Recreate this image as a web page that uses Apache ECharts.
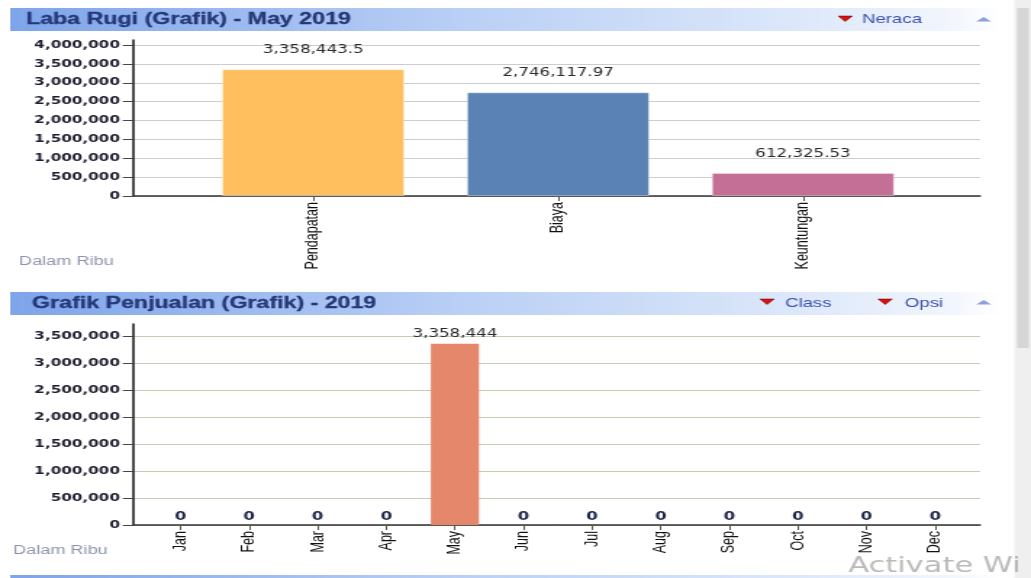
<!DOCTYPE html>
<html>
<head>
<meta charset="utf-8">
<title>Laba Rugi &amp; Grafik Penjualan</title>
<script src="https://cdn.jsdelivr.net/npm/echarts@6/dist/echarts.min.js"></script>
<style>
  html, body { margin: 0; padding: 0; background: #fff; overflow: hidden; }
  /* the dashboard is laid out at 711px and widened to the window */
  #wrap { width: 1031px; height: 578px; overflow: hidden; }
  #chart { width: 711px; height: 578px; transform: scaleX(1.45007); transform-origin: 0 0; }
</style>
</head>
<body>
<div id="wrap"><div id="chart"></div></div>
<script>
// ---- Laba Rugi, May 2019 (in thousands) ----
const profitTitle = 'Laba Rugi (Grafik) - May 2019';
const profitCategories = ['Pendapatan', 'Biaya', 'Keuntungan'];
const profitValues = [3358443.5, 2746117.97, 612325.53];
const profitColors = ['#FFBF5F', '#5B82B5', '#C47096'];
const profitAxisMax = 4000000;

// ---- Grafik Penjualan 2019 (in thousands) ----
const salesTitle = 'Grafik Penjualan (Grafik) - 2019';
const salesMonths = ['Jan', 'Feb', 'Mar', 'Apr', 'May', 'Jun', 'Jul', 'Aug', 'Sep', 'Oct', 'Nov', 'Dec'];
const salesValues = [0, 0, 0, 0, 3358444, 0, 0, 0, 0, 0, 0, 0];
const salesColor = '#E5876A';
const salesAxisMax = 3500000;

const axisStep = 500000;
const unitNote = 'Dalam Ribu';

const fmt = v => Number(v).toLocaleString('en-US', { maximumFractionDigits: 2 });

const chart = echarts.init(document.getElementById('chart'), null, { renderer: 'canvas' });

const tickFont = { fontFamily: 'DejaVu Sans', fontWeight: 'bold', fontSize: 10.5, color: '#1e1e2e' };
const catFont = { fontFamily: 'Liberation Sans', fontSize: 12.5, color: '#111' };
const valFont = { fontFamily: 'DejaVu Sans', fontSize: 11.5, color: '#2a2a2a' };

function headerBar(y) {
  return {
    type: 'rect',
    shape: { x: 7, y: y, width: 683, height: 23 },
    style: {
      fill: new echarts.graphic.LinearGradient(0, 0, 1, 0, [
        { offset: 0, color: '#7ea4ea' },
        { offset: 0.45, color: '#b9cff5' },
        { offset: 0.8, color: '#dde8fa' },
        { offset: 0.95, color: '#f2f6fd' },
        { offset: 1, color: '#ffffff' }
      ])
    },
    silent: true
  };
}
function headerText(text, x, y) {
  return { type: 'text', x: x, y: y,
    style: { text: text, fill: '#263878', font: 'bold 16px "Liberation Sans"', textVerticalAlign: 'middle',
      stroke: '#263878', lineWidth: 0.3 } };
}
function menuText(text, x, y) {
  return { type: 'text', x: x, y: y,
    style: { text: text, fill: '#3a4fb0', font: '12.8px "Liberation Sans"', textVerticalAlign: 'middle' } };
}
function downArrow(x, y) {
  return { type: 'polygon', shape: { points: [[x, y], [x + 9.8, y], [x + 4.9, y + 5.5]] },
    style: { fill: '#d81010', stroke: '#600', lineWidth: 0.5 } };
}
function upArrow(x, y) {
  return { type: 'polygon', shape: { points: [[x, y + 4.5], [x + 10.5, y + 4.5], [x + 5.25, y]] },
    style: { fill: '#8d9fdc' } };
}

const frameX = (data) => ({
  type: 'category', data: data, axisLabel: { show: false }, axisTick: { show: false },
  axisLine: { show: true, lineStyle: { color: '#333', width: 1.5 } }
});
const barsX = (data) => ({
  type: 'category', data: data,
  axisLine: { show: false },
  axisTick: { show: true, alignWithLabel: true, interval: 0, length: 5, lineStyle: { color: '#555' } },
  axisLabel: Object.assign({ rotate: 90, margin: 6, interval: 0 }, catFont)
});
const frameY = (max, gridColor) => ({
  type: 'value', min: 0, max: max, interval: axisStep,
  axisLine: { show: false },
  axisTick: { show: true, length: 7, lineStyle: { color: '#444' } },
  axisLabel: Object.assign({ margin: 9, formatter: v => fmt(v) }, tickFont),
  splitLine: { show: true, lineStyle: { color: gridColor, width: 1 } }
});
const hiddenY = (max) => ({ type: 'value', min: 0, max: max, show: false });
const lineY = () => ({
  type: 'value', min: 0, max: 1,
  axisLine: { show: true, lineStyle: { color: '#111', width: 1.5 } },
  axisTick: { show: false }, axisLabel: { show: false }, splitLine: { show: false }
});

const option = {
  animation: false,
  backgroundColor: '#ffffff',
  grid: [
    { left: 91.7, right: 35.1, top: 45, bottom: 382 },   // profit frame
    { left: 131.6, right: 72.8, top: 45, bottom: 382 },  // profit bars
    { left: 91.7, right: 35.1, top: 40, bottom: 382 },   // profit value-axis line
    { left: 91.7, right: 35.1, top: 336, bottom: 53 },   // sales frame
    { left: 100.8, right: 42.4, top: 336, bottom: 53 },  // sales bars
    { left: 91.7, right: 35.1, top: 324, bottom: 53 }    // sales value-axis line
  ],
  xAxis: [
    Object.assign({ gridIndex: 0 }, frameX([''])),
    Object.assign({ gridIndex: 1 }, barsX(profitCategories)),
    { gridIndex: 2, type: 'category', data: [''], show: false },
    Object.assign({ gridIndex: 3 }, frameX([''])),
    Object.assign({ gridIndex: 4 }, barsX(salesMonths)),
    { gridIndex: 5, type: 'category', data: [''], show: false }
  ],
  yAxis: [
    Object.assign({ gridIndex: 0 }, frameY(profitAxisMax, '#cdcdcd')),
    Object.assign({ gridIndex: 1 }, hiddenY(profitAxisMax)),
    Object.assign({ gridIndex: 2 }, lineY()),
    Object.assign({ gridIndex: 3 }, frameY(salesAxisMax, '#c9c9b6')),
    Object.assign({ gridIndex: 4 }, hiddenY(salesAxisMax)),
    Object.assign({ gridIndex: 5 }, lineY())
  ],
  series: [
    {
      name: profitTitle, type: 'bar', xAxisIndex: 1, yAxisIndex: 1,
      barWidth: '74.6%',
      data: profitValues.map((v, i) => ({
        value: v,
        itemStyle: { color: profitColors[i], borderColor: 'rgba(255,255,255,0.35)', borderWidth: 1 }
      })),
      label: Object.assign({ show: true, position: 'top', distance: 13, formatter: p => fmt(p.value) }, valFont)
    },
    {
      name: salesTitle, type: 'bar', xAxisIndex: 4, yAxisIndex: 4,
      barWidth: '70%',
      itemStyle: { color: salesColor },
      data: salesValues.map(v => ({
        value: v,
        label: v === 0 ? { fontWeight: 'bold', color: '#1c2448', distance: 2 } : {}
      })),
      label: Object.assign({ show: true, position: 'top', distance: 4, formatter: p => fmt(p.value) }, valFont)
    }
  ],
  graphic: [
    // scrollbar strip at the right edge
    { type: 'rect', shape: { x: 699.5, y: 0, width: 12, height: 578 }, style: { fill: '#efefef' }, silent: true },
    { type: 'rect', shape: { x: 701.5, y: 8, width: 8, height: 340 }, style: { fill: '#d6d6d6' }, silent: true },

    headerBar(8),
    headerText(profitTitle, 17.9, 19.5),
    downArrow(578, 16),
    menuText('Neraca', 594.5, 19.5),
    upArrow(673.1, 17),

    { type: 'text', x: 13.1, y: 262,
      style: { text: unitNote, fill: '#8c96ad', font: '12.5px "Liberation Sans"', textVerticalAlign: 'middle' } },

    headerBar(292),
    headerText(salesTitle, 22.1, 303.5),
    downArrow(524.1, 299),
    menuText('Class', 541.4, 303.5),
    downArrow(605.5, 299),
    menuText('Opsi', 624.1, 303.5),
    upArrow(673.1, 300),

    { type: 'text', x: 9, y: 551,
      style: { text: unitNote, fill: '#8c96ad', font: '12.5px "Liberation Sans"', textVerticalAlign: 'middle' } },

    // next panel header peeking in at the bottom
    headerBar(575),

    { type: 'text', x: 585, y: 567,
      style: { text: 'Activate Wi', fill: 'rgba(140,140,140,0.6)', font: '21px "DejaVu Sans"', textVerticalAlign: 'middle' } }
  ]
};

chart.setOption(option);
</script>
</body>
</html>
